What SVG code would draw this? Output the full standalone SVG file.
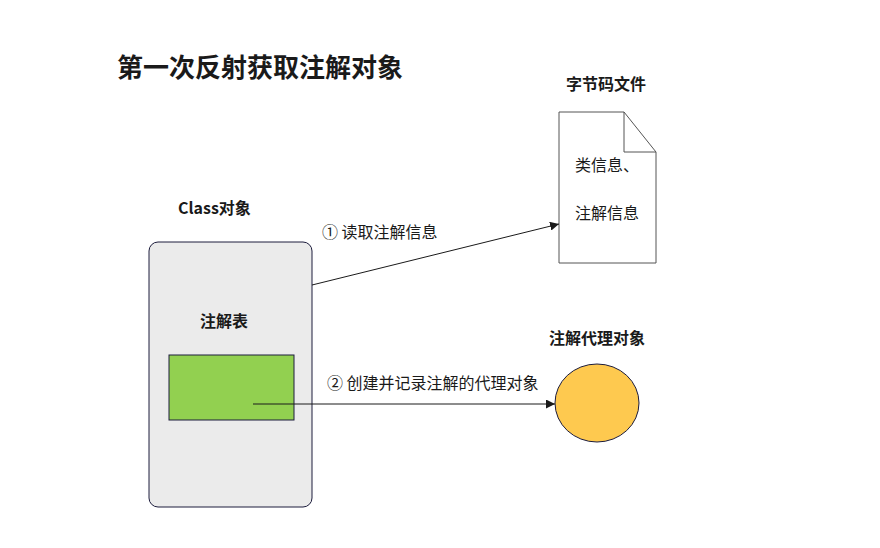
<svg xmlns="http://www.w3.org/2000/svg" width="880" height="548" viewBox="0 0 880 548">
<defs>
<style>
text{font-family:"Noto Sans CJK SC","Liberation Sans",sans-serif;fill:#1a1a1a}
.b{font-weight:bold;font-size:16px}
.n{font-size:16px}
.edge{stroke:#1a1a1a;stroke-width:1;fill:none}
</style>
<marker id="ah" viewBox="0 0 10 10" refX="10" refY="5" markerWidth="9" markerHeight="9" markerUnits="userSpaceOnUse" orient="auto">
<path d="M0,0 L10,5 L0,10 Z" fill="#1a1a1a"/>
</marker>
</defs>
<rect width="880" height="548" fill="#fff"/>
<text x="117" y="77" style="font-size:26px;font-weight:bold">第一次反射获取注解对象</text>
<g id="class-obj">
<text class="b" x="178" y="214">Class对象</text>
<rect x="149" y="242" width="163" height="265" rx="9" fill="#ebebeb" stroke="#1c1c3c"/>
<text class="b" x="224" y="327" text-anchor="middle">注解表</text>
</g>
<g id="ann-table">
<rect x="169" y="355" width="125" height="65" fill="#92d050" stroke="#1c1c3c"/>
</g>
<g id="bytecode">
<text class="b" x="606" y="90" text-anchor="middle">字节码文件</text>
<path d="M559,112 H624 L656,152 V263 H559 Z" fill="#fff" stroke="#555"/>
<path d="M624,112 V152 H656" fill="none" stroke="#555"/>
<text class="n" x="575" y="171">类信息、</text>
<text class="n" x="575" y="219">注解信息</text>
</g>
<g id="proxy">
<text class="b" x="597" y="344" text-anchor="middle">注解代理对象</text>
<ellipse cx="597" cy="403" rx="42" ry="39" fill="#fec94f" stroke="#1c1c3c"/>
</g>
<g id="connectors">
<line class="edge" x1="312" y1="285" x2="559" y2="224" marker-end="url(#ah)"/>
<text class="n" x="322" y="238">① 读取注解信息</text>
<line class="edge" x1="253" y1="404" x2="555" y2="404" marker-end="url(#ah)"/>
<text class="n" x="327" y="389">② 创建并记录注解的代理对象</text>
</g>
</svg>
